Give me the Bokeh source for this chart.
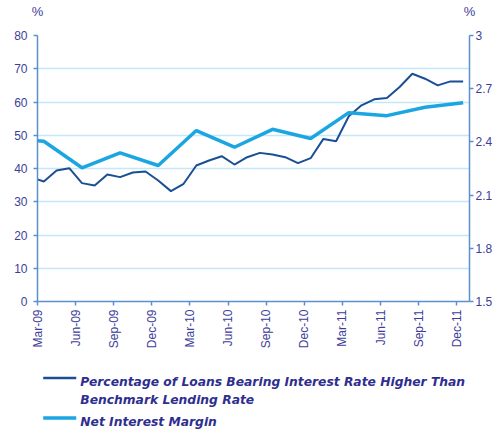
from bokeh.plotting import figure
from bokeh.models import Range1d, LinearAxis, FixedTicker
from bokeh.layouts import column
from bokeh.core.properties import value
from bokeh.embed import file_html
from bokeh.resources import INLINE
import math

# ---------------- data ----------------
# Percentage of loans bearing interest rate higher than benchmark lending rate (monthly, %)
loan_months = ["Feb-09", "Mar-09", "Apr-09", "May-09", "Jun-09", "Jul-09", "Aug-09", "Sep-09",
               "Oct-09", "Nov-09", "Dec-09", "Jan-10", "Feb-10", "Mar-10", "Apr-10", "May-10",
               "Jun-10", "Jul-10", "Aug-10", "Sep-10", "Oct-10", "Nov-10", "Dec-10", "Jan-11",
               "Feb-11", "Mar-11", "Apr-11", "May-11", "Jun-11", "Jul-11", "Aug-11", "Sep-11",
               "Oct-11", "Nov-11", "Dec-11"]
loan_pct = [37.3, 36.1, 39.4, 40.1, 35.6, 34.9, 38.2, 37.4,
            38.8, 39.1, 36.4, 33.2, 35.4, 40.9, 42.4, 43.7,
            41.2, 43.4, 44.7, 44.2, 43.4, 41.6, 43.1, 48.9,
            48.2, 55.7, 59.0, 60.8, 61.2, 64.5, 68.5, 67.0,
            65.0, 66.2, 66.2]

# Net interest margin (quarterly, %)
nim_quarters = ["Dec-08", "Mar-09", "Jun-09", "Sep-09", "Dec-09", "Mar-10", "Jun-10",
                "Sep-10", "Dec-10", "Mar-11", "Jun-11", "Sep-11", "Dec-11"]
nim = [2.42, 2.404, 2.254, 2.338, 2.267, 2.464, 2.370,
       2.471, 2.419, 2.565, 2.548, 2.595, 2.621]

x_tick_labels = ["Mar-09", "Jun-09", "Sep-09", "Dec-09", "Mar-10", "Jun-10",
                 "Sep-10", "Dec-10", "Mar-11", "Jun-11", "Sep-11", "Dec-11"]
left_ticks = [0, 10, 20, 30, 40, 50, 60, 70, 80]
right_ticks = [1.5, 1.8, 2.1, 2.4, 2.7, 3.0]
right_tick_labels = ["1.5", "1.8", "2.1", "2.4", "2.7", "3"]
unit_labels = ["%", "%"]

series_names = ["Percentage of Loans Bearing Interest Rate Higher Than",
                "Benchmark Lending Rate",
                "Net Interest Margin"]

# ---------------- helpers ----------------
MON = {m: i for i, m in enumerate(["Jan", "Feb", "Mar", "Apr", "May", "Jun",
                                   "Jul", "Aug", "Sep", "Oct", "Nov", "Dec"])}


def month_index(lbl):
    m, y = lbl.split("-")
    return (2000 + int(y) - 2009) * 12 + MON[m] - MON["Mar"]


loan_x = [month_index(m) + 0.5 for m in loan_months]
nim_x = [month_index(q) + 0.5 for q in nim_quarters]
tick_x = [month_index(t) for t in x_tick_labels]
x_start, x_end = tick_x[0], tick_x[-1] + 1

TEXT = "#3d3d99"
AXIS = "#5b8fd0"
GRID = "#c4e8f7"
DARK = "#1b4f95"
LIGHT = "#1ba6e2"
FONT = "Liberation Sans"

W = 495
H_MAIN = 352
H_LEG = 77
BL, BR = 37, W - 469

# ---------------- main chart ----------------
p = figure(width=W, height=H_MAIN, output_backend="svg", toolbar_location=None,
           x_range=Range1d(x_start, x_end),
           y_range=Range1d(left_ticks[0], left_ticks[-1]),
           min_border_left=BL, min_border_right=BR, min_border_top=35,
           min_border_bottom=H_MAIN - 301)
p.outline_line_color = None
p.extra_y_ranges = {"nim": Range1d(right_ticks[0], right_ticks[-1])}

p.xgrid.visible = False
p.ygrid.ticker = FixedTicker(ticks=left_ticks)
p.ygrid.grid_line_color = GRID
p.ygrid.grid_line_width = 1.5


def style_axis(ax):
    ax.axis_line_color = AXIS
    ax.axis_line_width = 1.5
    ax.major_tick_line_color = AXIS
    ax.major_tick_line_width = 1.5
    ax.major_tick_in = 0
    ax.major_tick_out = 4
    ax.minor_tick_line_color = None
    ax.major_label_text_color = TEXT
    ax.major_label_text_font = FONT
    ax.major_label_text_font_size = "12px"


style_axis(p.xaxis[0])
style_axis(p.yaxis[0])

p.yaxis[0].ticker = FixedTicker(ticks=left_ticks)
p.yaxis[0].major_label_standoff = 6

p.xaxis[0].ticker = FixedTicker(ticks=tick_x)
p.xaxis[0].major_label_overrides = {t: l for t, l in zip(tick_x, x_tick_labels)}
p.xaxis[0].major_label_orientation = math.pi / 2
p.xaxis[0].major_label_standoff = 4

rax = LinearAxis(y_range_name="nim", ticker=FixedTicker(ticks=right_ticks))
rax.major_label_overrides = {t: l for t, l in zip(right_ticks, right_tick_labels)}
style_axis(rax)
rax.major_label_standoff = 2
p.add_layout(rax, "right")

# "%" unit markers above both value axes
tax = LinearAxis(ticker=FixedTicker(ticks=[x_start, x_end]))
tax.major_label_overrides = {x_start: unit_labels[0], x_end: unit_labels[1]}
tax.axis_line_color = None
tax.major_tick_line_color = None
tax.minor_tick_line_color = None
tax.major_label_standoff = 11
tax.major_label_text_color = TEXT
tax.major_label_text_font = FONT
tax.major_label_text_font_size = "13px"
p.add_layout(tax, "above")

p.line(loan_x, loan_pct, line_color=DARK, line_width=2)
p.line(nim_x, nim, line_color=LIGHT, line_width=3.5, y_range_name="nim")

# ---------------- legend (its own strip, in canvas pixel units) ----------------
lg = figure(width=W, height=H_LEG, output_backend="svg", toolbar_location=None,
            x_range=Range1d(37.3, 468.7), y_range=Range1d(H_MAIN + H_LEG, H_MAIN),
            x_axis_location=None, y_axis_location=None,
            min_border_left=BL, min_border_right=BR, min_border_top=0, min_border_bottom=0)
lg.outline_line_color = None
lg.grid.visible = False
lg.line([43, 76], [377.5, 377.5], line_color=DARK, line_width=2.5)
lg.line([43, 76], [417.5, 417.5], line_color=LIGHT, line_width=3.5)
lg.text(x=[80, 80, 80], y=[381.2, 399.3, 421.6], text=series_names,
        text_font=value("DejaVu Sans"), text_font_style="bold italic",
        text_font_size="12.3px", text_color="#2e2e8f", text_baseline="alphabetic")

layout = column(p, lg, spacing=0)
open("out.html", "w").write(file_html(layout, INLINE))
